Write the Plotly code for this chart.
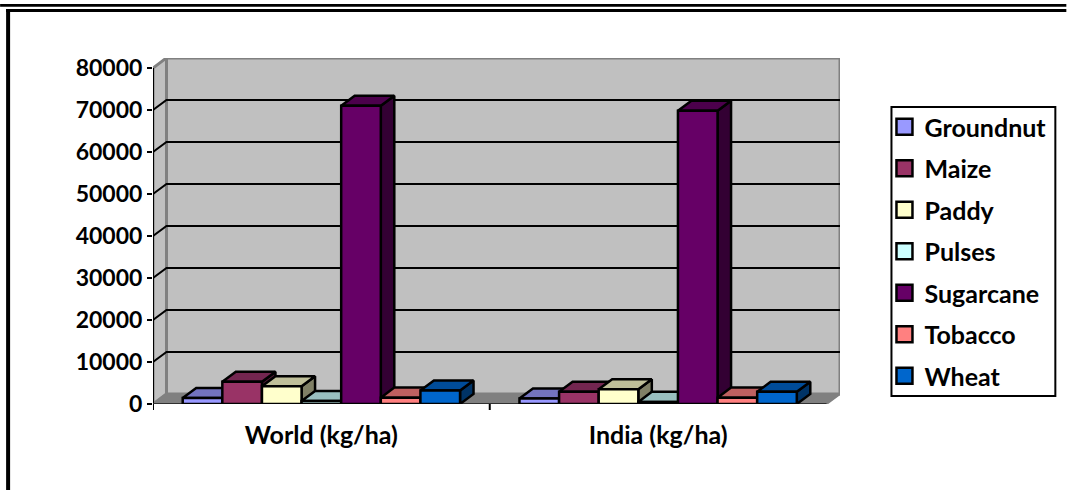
import plotly.graph_objects as go

categories = ["World (kg/ha)", "India (kg/ha)"]
series_names = ["Groundnut", "Maize", "Paddy", "Pulses", "Sugarcane", "Tobacco", "Wheat"]
groundnut = [1400, 1300]
maize = [5300, 2900]
paddy = [4200, 3500]
pulses = [700, 500]
sugarcane = [71000, 69800]
tobacco = [1500, 1500]
wheat = [3200, 2900]
series_values = [groundnut, maize, paddy, pulses, sugarcane, tobacco, wheat]

front = ["#9999FF", "#993366", "#FFFFCC", "#CCFFFF", "#660066", "#FF8080", "#0066CC"]
top = ["#7373BF", "#732650", "#BFBF99", "#99BFBF", "#4C004C", "#BF6060", "#004C99"]
side = ["#4D4D80", "#4D1933", "#808066", "#668080", "#330033", "#804040", "#003366"]
y_ticks = [0, 10000, 20000, 30000, 40000, 50000, 60000, 70000, 80000]

W, H = 1067, 490
L, R, T, B = 153, 840.5, 58, 404
DX = 13.5 / 337
DY = 2400
X_END = len(categories)
BAR = 1 / 8.5
FONT = "Lato"
BLACK = "#000000"
GREY = "#808080"
WALL = "#C0C0C0"


def px(x):
    return (x - L) / (R - L)


def py(y):
    return (B - y) / (B - T)


fig = go.Figure()


def poly(xs, ys, fill, line, lw=2.5, z=0):
    fig.add_trace(go.Scatter(
        x=xs, y=ys, mode="lines", fill="toself" if fill else "none", fillcolor=fill,
        line=dict(color=line, width=lw), showlegend=False, hoverinfo="skip",
        cliponaxis=False, zorder=z))


wall_top = y_ticks[-1] + DY
poly([DX, DX + X_END, DX + X_END, DX, DX], [DY, DY, wall_top, wall_top, DY], WALL, GREY, 3)
poly([0, DX, DX, 0, 0], [0, DY, wall_top, y_ticks[-1], 0], WALL, GREY, 3)
poly([0, DX, DX + X_END, X_END, 0], [0, DY, DY, 0, 0], GREY, GREY, 2)

gx, gy = [], []
for t in y_ticks[1:-1]:
    gx += [0, DX, DX + X_END, None]
    gy += [t, t + DY, t + DY, None]
poly(gx, gy, None, BLACK, 2)
poly([0, 0], [0, y_ticks[-1]], None, BLACK, 2)
poly([0, X_END], [0, 0], None, "#303030", 2)

for i, (name, vals) in enumerate(zip(series_names, series_values)):
    lefts = [c + (1 - 7 * BAR) / 2 + i * BAR for c in range(len(categories))]
    sx, sy, tx, ty = [], [], [], []
    for xl, v in zip(lefts, vals):
        xr = xl + BAR
        sx += [xr, xr + DX, xr + DX, xr, xr, None]
        sy += [0, DY, v + DY, v, 0, None]
        tx += [xl, xl + DX, xr + DX, xr, xl, None]
        ty += [v, v + DY, v + DY, v, v, None]
    poly(sx, sy, side[i], BLACK, 2.5, z=2 * i + 1)
    poly(tx, ty, top[i], BLACK, 2.5, z=2 * i + 1)
    fig.add_trace(go.Bar(
        x=[l + BAR / 2 for l in lefts], y=vals, width=BAR, name=name,
        marker=dict(color=front[i], line=dict(color=BLACK, width=2.5)),
        showlegend=False, zorder=2 * i + 2))
    fig.add_trace(go.Scatter(
        x=[None], y=[None], mode="markers", name=name, legendgroup=name,
        marker=dict(symbol="square", size=16, color=front[i], line=dict(color=BLACK, width=2.5))))

frame = [(0, 4, W, 6.7), (6, 9, W, 12), (6, 9, 10, H)]
shapes = [dict(type="rect", xref="paper", yref="paper", x0=px(a), x1=px(c), y0=py(b), y1=py(d),
               fillcolor=BLACK, line=dict(width=0), layer="above") for a, b, c, d in frame]
# legend box
shapes.append(dict(type="rect", xref="paper", yref="paper", x0=px(892), x1=px(1056), y0=py(107), y1=py(396),
                   fillcolor="rgba(0,0,0,0)", line=dict(color=BLACK, width=2), layer="above"))
# x-axis boundary ticks
for c in range(len(categories)):
    shapes.append(dict(type="line", xref="x", yref="paper", x0=c, x1=c, y0=0, y1=py(410),
                       line=dict(color=BLACK, width=2), layer="above"))

fig.update_layout(
    width=W, height=H, autosize=False,
    margin=dict(l=L, r=W - R, t=T, b=H - B, pad=0, autoexpand=False),
    paper_bgcolor="white", plot_bgcolor="white",
    font=dict(family=FONT, size=25, color=BLACK, weight="bold"),
    barmode="overlay", shapes=shapes,
    xaxis=dict(range=[0, X_END + DX], tickvals=[c + 0.5 for c in range(len(categories))],
               ticktext=categories, ticks="", showgrid=False, zeroline=False, showline=False,
               tickfont=dict(family=FONT, size=25, color=BLACK, weight="bold"), ticklabelstandoff=14),
    yaxis=dict(range=[0, (B - T) / (B - 68) * y_ticks[-1]], tickvals=y_ticks, tickformat="d", ticks="outside",
               ticklen=5, tickwidth=2, tickcolor=BLACK, showgrid=False, zeroline=False,
               showline=False, ticklabelstandoff=0,
               tickfont=dict(family=FONT, size=23, color=BLACK, weight="bold")),
    legend=dict(x=px(885), y=py(104), xanchor="left", yanchor="top", bgcolor="rgba(0,0,0,0)",
                borderwidth=0, tracegroupgap=6, itemwidth=30,
                itemclick=False, itemdoubleclick=False,
                font=dict(family=FONT, size=25, color=BLACK, weight="bold")),
)
fig.write_html("out.html", config={"displayModeBar": False},
               post_script="document.body.style.margin='0';")
